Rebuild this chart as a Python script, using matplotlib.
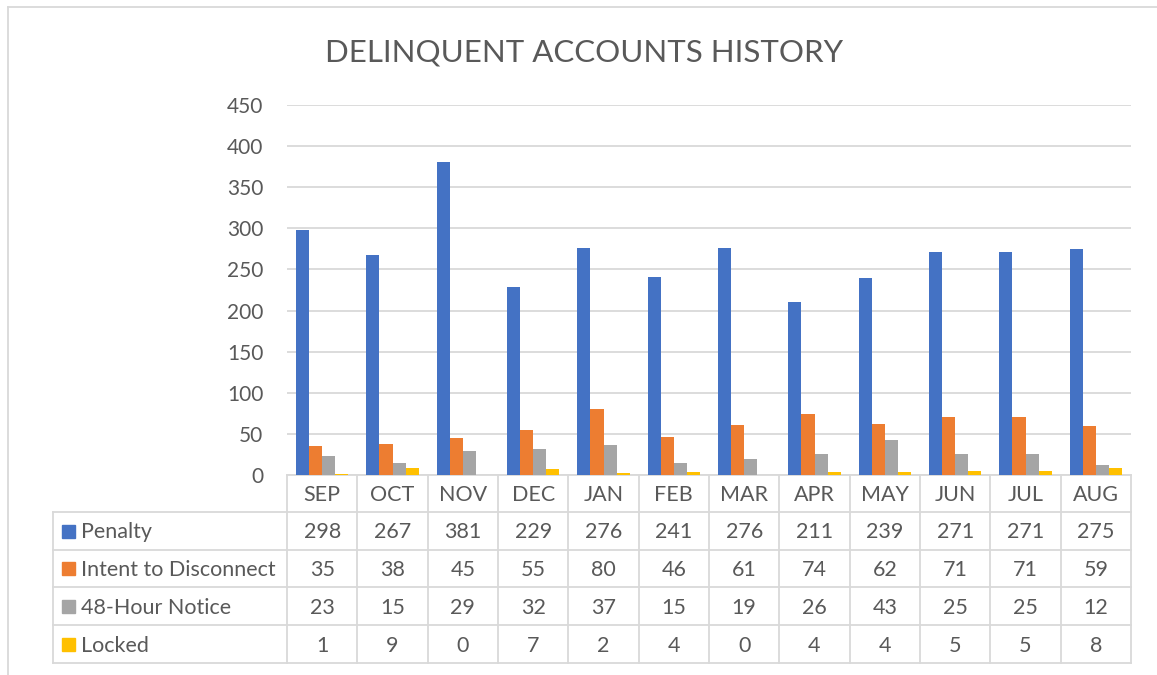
import matplotlib
matplotlib.use("Agg")
import matplotlib.pyplot as plt
import numpy as np
from matplotlib.lines import Line2D
from matplotlib.patches import Rectangle

months = ["SEP", "OCT", "NOV", "DEC", "JAN", "FEB", "MAR", "APR", "MAY", "JUN", "JUL", "AUG"]
series_names = ["Penalty", "Intent to Disconnect", "48-Hour Notice", "Locked"]
penalty = [298, 267, 381, 229, 276, 241, 276, 211, 239, 271, 271, 275]
intent = [35, 38, 45, 55, 80, 46, 61, 74, 62, 71, 71, 59]
notice48 = [23, 15, 29, 32, 37, 15, 19, 26, 43, 25, 25, 12]
locked = [1, 9, 0, 7, 2, 4, 0, 4, 4, 5, 5, 8]
colors = ["#4472C4", "#ED7D31", "#A5A5A5", "#FFC000"]
yticks = [0, 50, 100, 150, 200, 250, 300, 350, 400, 450]

plt.rcParams['font.family'] = ['Lato', 'DejaVu Sans']
TXT = "#595959"
GRID = "#D9D9D9"
FS = 15.5

W, H = 1157, 675
fig = plt.figure(figsize=(W / 100, H / 100), dpi=100)

def fx(px):
    return px / W

def fy(py):
    return 1 - py / H

ax_l, ax_r, ax_b, ax_t = 287, 1131, 475, 105
ax = fig.add_axes([fx(ax_l), fy(ax_b), fx(ax_r) - fx(ax_l), fy(ax_t) - fy(ax_b)])

data = [penalty, intent, notice48, locked]
x = np.arange(len(months))
w = 0.186
for i, (vals, c) in enumerate(zip(data, colors)):
    ax.bar(x + (i - 1.5) * w, vals, width=w, color=c, zorder=3)

ax.set_xlim(-0.5, len(months) - 0.5)
ax.set_ylim(0, 450)
ax.set_yticks(yticks)
ax.set_yticklabels([str(v) for v in yticks], fontsize=15, color=TXT)
ax.tick_params(axis='y', length=0, pad=17)
ax.set_xticks([])
ax.grid(axis='y', color=GRID, linewidth=1.3, zorder=0)
for s in ["top", "right", "left"]:
    ax.spines[s].set_visible(False)
ax.spines["bottom"].set_color(GRID)
ax.spines["bottom"].set_linewidth(1.3)

# Title
fig.text(fx(584), fy(52), "DELINQUENT ACCOUNTS HISTORY", ha="center", va="center",
         fontsize=22.5, color=TXT)

# Data table
col_w = (ax_r - ax_l) / len(months)
row_y = [475, 512, 550, 587, 625, 663]
tbl_left = 53
lc = GRID
lw = 1.3
for yy in row_y[1:]:
    fig.add_artist(Line2D([fx(tbl_left), fx(ax_r)], [fy(yy), fy(yy)], color=lc, lw=lw))
for j in range(len(months) + 1):
    xx = ax_l + j * col_w
    fig.add_artist(Line2D([fx(xx), fx(xx)], [fy(row_y[0]), fy(row_y[-1])], color=lc, lw=lw))
fig.add_artist(Line2D([fx(tbl_left), fx(tbl_left)], [fy(row_y[1]), fy(row_y[-1])], color=lc, lw=lw))

dy = 1.5
for j, m in enumerate(months):
    cx = ax_l + (j + 0.5) * col_w
    fig.text(fx(cx), fy((row_y[0] + row_y[1]) / 2 + dy), m, ha="center", va="center",
             fontsize=FS, color=TXT)

for r, (name, vals, c) in enumerate(zip(series_names, data, colors)):
    cy = (row_y[r + 1] + row_y[r + 2]) / 2
    fig.add_artist(Rectangle((fx(62), fy(cy + 6.5)), fx(13), fy(cy - 6.5) - fy(cy + 6.5),
                             color=c, transform=fig.transFigure))
    fig.text(fx(81), fy(cy + dy), name, ha="left", va="center", fontsize=FS, color=TXT)
    for j, v in enumerate(vals):
        cx = ax_l + (j + 0.5) * col_w
        fig.text(fx(cx), fy(cy + dy), str(v), ha="center", va="center", fontsize=FS, color=TXT)

# Chart border
fig.add_artist(Line2D([fx(8), fx(W)], [fy(7), fy(7)], color=GRID, lw=1.3))
fig.add_artist(Line2D([fx(8), fx(8)], [fy(7), fy(H)], color=GRID, lw=1.3))

fig.savefig("out.png", dpi=100, facecolor="white")
